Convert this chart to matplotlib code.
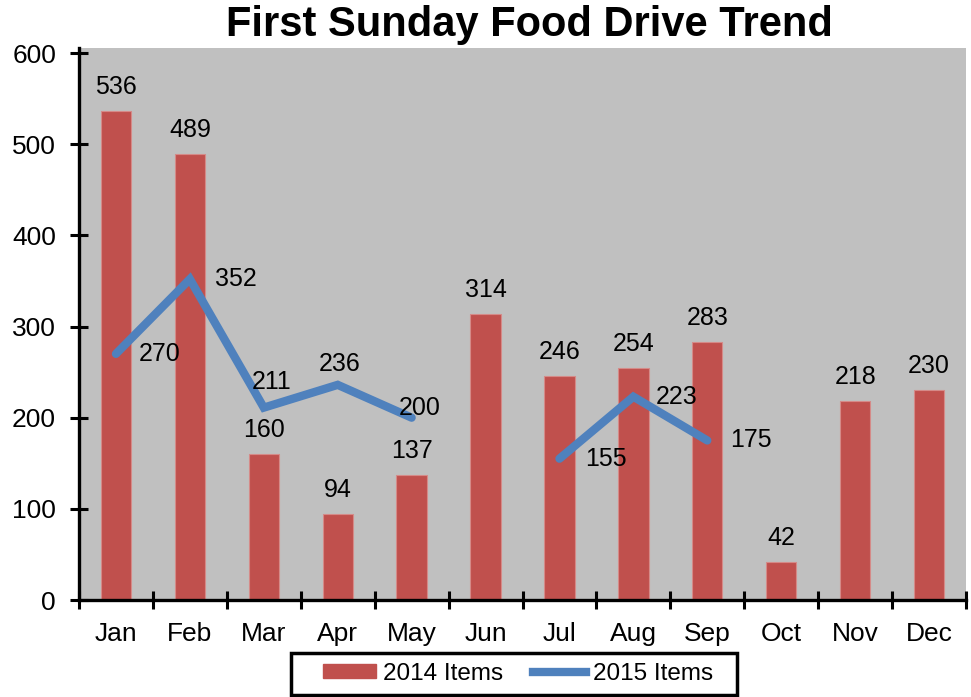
import numpy as np
import matplotlib
matplotlib.use("Agg")
import matplotlib.pyplot as plt
from matplotlib.patches import Patch, Rectangle
from matplotlib.lines import Line2D

months = ["Jan", "Feb", "Mar", "Apr", "May", "Jun", "Jul", "Aug", "Sep", "Oct", "Nov", "Dec"]
items_2014 = [536, 489, 160, 94, 137, 314, 246, 254, 283, 42, 218, 230]
items_2015 = [270, 352, 211, 236, 200, np.nan, 155, 223, 175, np.nan, np.nan, np.nan]
yticks = [0, 100, 200, 300, 400, 500, 600]

# label offsets for the 2015 series (pixels), style only
line_label_offsets = [(44, 0), (46, 0), (8, 26), (2, 21), (8, 10), (0, 0), (46, 0), (43, 0), (44, 0)]

plt.rcParams['font.family'] = ['Liberation Sans', 'DejaVu Sans']

W, H = 971, 697
fig = plt.figure(figsize=(W/100, H/100), dpi=100)
ax = fig.add_axes([79/W, 1-600/H, (966-79)/W, (600-48)/H])
ax.set_facecolor("#C0C0C0")

x = np.arange(len(months))
bar_color = "#C0504D"
line_color = "#4F81BD"

ax.bar(x, items_2014, width=0.41, color=bar_color, edgecolor="#D58A88", linewidth=0.8, zorder=2)
ax.plot(x, items_2015, color=line_color, linewidth=6.0, solid_capstyle='round', solid_joinstyle='miter', zorder=3)

for xi, v in zip(x, items_2014):
    ax.annotate(str(v), (xi, v), xytext=(0, 24), textcoords='offset pixels',
                ha='center', va='center', fontsize=18, zorder=4)

for xi, v, off in zip(x, items_2015, line_label_offsets):
    if np.isnan(v):
        continue
    ax.annotate(str(int(v)), (xi, v), xytext=off, textcoords='offset pixels',
                ha='center', va='center', fontsize=18, zorder=4)

ax.set_xlim(-0.5, 11.5)
ax.set_ylim(0, 605.5)
ax.set_yticks(yticks)
ax.set_yticklabels([str(t) for t in yticks], fontsize=19)
ax.set_xticks(x)
ax.set_xticklabels(months, fontsize=19)
ax.set_xticks(np.arange(-0.5, 12, 1), minor=True)
ax.tick_params(axis='x', which='major', length=0, pad=16)
ax.tick_params(axis='x', which='minor', direction='inout', length=13, width=2.2)
ax.tick_params(axis='y', which='major', direction='inout', length=13, width=2.2, pad=10)

for s in ['top', 'right']:
    ax.spines[s].set_visible(False)
for s in ['left', 'bottom']:
    ax.spines[s].set_linewidth(2.4)
    ax.spines[s].set_color('black')

fig.text(529/W, 1-25/H, "First Sunday Food Drive Trend", ha='center', va='center',
         fontsize=30, fontweight='bold')

# legend frame
fig.patches.append(Rectangle((291/W, 1-695/H), (737-291)/W, (695-653)/H,
                             transform=fig.transFigure, facecolor='white',
                             edgecolor='black', linewidth=2.5, zorder=1))

handles = [Patch(facecolor=bar_color, edgecolor=bar_color),
           Line2D([0], [0], color=line_color, linewidth=6)]
leg = fig.legend(handles, ["2014 Items", "2015 Items"], loc='center', ncol=2,
                 bbox_to_anchor=(518/W, 1-674/H), fontsize=17.5, frameon=False,
                 handlelength=2.2, handleheight=0.5, columnspacing=1.2,
                 handletextpad=0.3, borderpad=0.0, borderaxespad=0)
leg.set_zorder(2)

fig.savefig("out.png", dpi=100)
